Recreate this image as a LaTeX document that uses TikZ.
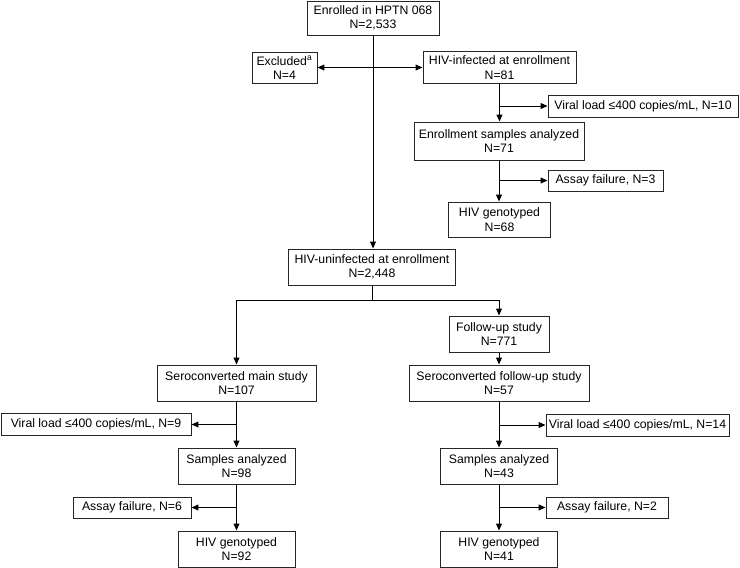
\documentclass[tikz,border=0pt]{standalone}
\usepackage{fontspec}
\setmainfont{Liberation Sans}
\usetikzlibrary{arrows.meta,calc}
\begin{document}
\begin{tikzpicture}[x=0.75pt,y=-0.75pt,
  box/.style n args={2}{draw=black!85, line width=0.75pt, align=center, inner sep=0pt,
    minimum width=#1*0.75pt, minimum height=#2*0.75pt,
    font=\fontsize{9.2}{10.8}\selectfont},
  arr/.style={draw=black, line width=0.75pt, -{Triangle[length=5.2pt,width=4.4pt]}},
  ln/.style={draw=black, line width=0.75pt},
  biarr/.style={draw=black, line width=0.75pt, {Triangle[length=5.2pt,width=4.4pt]}-{Triangle[length=5.2pt,width=4.4pt]}}]
\useasboundingbox (0,0) rectangle (740,568);

\node[box={132}{34}] (enr) at (373,18) {Enrolled in HPTN 068\\N=2,533};
\node[box={65}{31}] (exc) at (284.5,67.5) {Excluded\textsuperscript{a}\\N=4};
\node[box={153}{32}] (inf) at (499.5,67.5) {HIV-infected at enrollment\\N=81};
\node[box={190}{22}] (vl10) at (643,106) {Viral load ≤400 copies/mL, N=10};
\node[box={170}{38}] (esa) at (499,141) {Enrollment samples analyzed\\N=71};
\node[box={115}{21}] (af3) at (605.5,180.5) {Assay failure, N=3};
\node[box={102}{35}] (g68) at (499.5,219.5) {HIV genotyped\\N=68};
\node[box={167}{36}] (uninf) at (372,267) {HIV-uninfected at enrollment\\N=2,448};
\node[box={100}{36}] (fu) at (499,334) {Follow-up study\\N=771};
\node[box={159}{36}] (scm) at (236.5,383) {Seroconverted main study\\N=107};
\node[box={190}{22}] (vl9) at (96,424.5) {Viral load ≤400 copies/mL, N=9};
\node[box={117}{36}] (sa98) at (236.5,466) {Samples analyzed\\N=98};
\node[box={118}{21}] (af6) at (132,507.5) {Assay failure, N=6};
\node[box={117}{36}] (g92) at (236.5,549) {HIV genotyped\\N=92};
\node[box={180}{36}] (scf) at (499,383) {Seroconverted follow-up study\\N=57};
\node[box={183}{22}] (vl14) at (637.5,425) {Viral load ≤400 copies/mL, N=14};
\node[box={117}{36}] (sa43) at (499,466) {Samples analyzed\\N=43};
\node[box={122}{21}] (af2) at (607,507.5) {Assay failure, N=2};
\node[box={117}{36}] (g41) at (499,549) {HIV genotyped\\N=41};

% top trunk
\draw[arr] (enr.south) -- (enr.south |- uninf.north);
\draw[biarr] (exc.east) -- (inf.west);

% HIV-infected branch
\draw[arr] (inf.south) -- (inf.south |- esa.north);
\coordinate (b10) at (inf.south |- vl10.west);
\draw[arr] (b10) -- (vl10.west);
\draw[arr] (esa.south) -- (esa.south |- g68.north);
\coordinate (b3) at (esa.south |- af3.west);
\draw[arr] (b3) -- (af3.west);

% split
\coordinate (sp) at ($(uninf.south)+(0,15)$);
\coordinate (spl) at (scm.north |- sp);
\coordinate (spr) at (fu.north |- sp);
\draw[ln] (uninf.south) -- (sp);
\draw[arr] (sp) -- (spl) -- (scm.north);
\draw[arr] (sp) -- (spr) -- (fu.north);

% left column
\draw[arr] (scm.south) -- (sa98.north);
\coordinate (b9) at (scm.south |- vl9.east);
\draw[arr] (b9) -- (vl9.east);
\draw[arr] (sa98.south) -- (g92.north);
\coordinate (b6) at (sa98.south |- af6.east);
\draw[arr] (b6) -- (af6.east);

% right column
\draw[arr] (fu.south) -- (scf.north);
\draw[arr] (scf.south) -- (sa43.north);
\coordinate (b14) at (scf.south |- vl14.west);
\draw[arr] (b14) -- (vl14.west);
\draw[arr] (sa43.south) -- (g41.north);
\coordinate (b2) at (sa43.south |- af2.west);
\draw[arr] (b2) -- (af2.west);
\end{tikzpicture}
\end{document}
